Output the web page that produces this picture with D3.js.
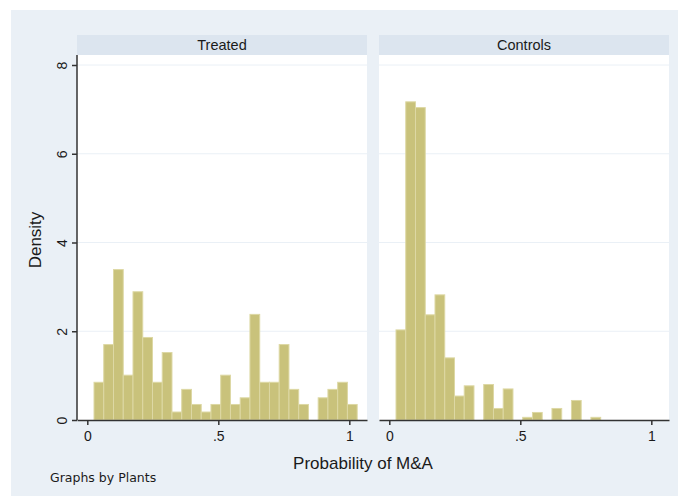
<!DOCTYPE html>
<html lang="en">
<head>
	<meta charset="UTF-8">
	<script src="https://d3js.org/d3.v7.min.js"></script>
	<style>
	body { margin: 0; background: #ffffff; }
	text { font-family: "Liberation Sans", Arial, sans-serif; fill: #1a1a1a; }
	</style>
	<title>Probability of M&amp;A by Plants</title>
</head>
<body>
	<div id="chart"></div>
	<script>
		// Histogram bins (same for both panels)
		const binStart = 0.0256;
		const binWidth = 0.0372;

		// Density per bin
		const treatedDensity = [0.85, 1.70, 3.39, 1.01, 2.89, 1.86, 0.85, 1.52, 0.18, 0.69,
			0.35, 0.18, 0.35, 1.01, 0.35, 0.50, 2.38, 0.85, 0.85, 1.70,
			0.69, 0.35, 0, 0.50, 0.69, 0.85, 0.35];
		const controlsDensity = [2.03, 7.17, 7.04, 2.37, 2.82, 1.40, 0.54, 0.77, 0, 0.80,
			0.26, 0.70, 0, 0.06, 0.17, 0, 0.26, 0, 0.44, 0, 0.06];

		const panels = ["Treated", "Controls"];
		const panelData = [treatedDensity, controlsDensity];
		const xTicks = [0, 0.5, 1];
		const xTickLabels = ["0", ".5", "1"];
		const yTicks = [0, 2, 4, 6, 8];

		const width = 678, height = 496;
		const svg = d3.select("#chart").append("svg")
			.attr("width", width)
			.attr("height", height);

		// Outer graph region
		svg.append("rect")
			.attr("x", 11).attr("y", 10)
			.attr("width", 667).attr("height", 486)
			.attr("fill", "#eaf0f6");

		const plotTop = 55, plotBottom = 420;
		const panelLeft = [77, 379], panelW = 290;

		const y = d3.scaleLinear([0, 8], [plotBottom, 65]);

		panels.forEach(function(name, p) {
			const x0 = panelLeft[p];
			const x = d3.scaleLinear([-0.0393, 1.0675], [x0, x0 + panelW]);
			const g = svg.append("g");

			// strip
			g.append("rect")
				.attr("x", x0).attr("y", 35)
				.attr("width", panelW).attr("height", 20)
				.attr("fill", "#dce5ef");
			g.append("text")
				.attr("x", x0 + panelW / 2).attr("y", 50)
				.attr("text-anchor", "middle")
				.style("font-size", "14.5px")
				.text(name);

			// plot region
			g.append("rect")
				.attr("x", x0).attr("y", plotTop)
				.attr("width", panelW).attr("height", plotBottom - plotTop)
				.attr("fill", "#ffffff");

			// gridlines
			g.selectAll(".grid")
				.data(yTicks.slice(1))
				.join("line")
				.attr("x1", x0).attr("x2", x0 + panelW)
				.attr("y1", d => y(d)).attr("y2", d => y(d))
				.attr("stroke", "#eaf0f6")
				.attr("stroke-width", 1);

			// bars (empty bins skipped, index kept)
			const bins = panelData[p].map((d, i) => ({ i: i, v: d })).filter(b => b.v > 0);
			g.selectAll(".bar")
				.data(bins)
				.join("rect")
				.attr("x", b => x(binStart + b.i * binWidth))
				.attr("y", b => y(b.v))
				.attr("width", b => x(binStart + (b.i + 1) * binWidth) - x(binStart + b.i * binWidth))
				.attr("height", b => y(0) - y(b.v))
				.attr("fill", "#c9c27b")
				.attr("stroke", "#ddd8a4")
				.attr("stroke-width", 1);

			// x axis
			const xAxis = g.append("g")
				.attr("transform", "translate(0," + plotBottom + ")")
				.call(d3.axisBottom(x).tickValues(xTicks)
					.tickFormat((d, i) => xTickLabels[i])
					.tickSize(5).tickPadding(6).tickSizeOuter(0));
			xAxis.select(".domain").attr("stroke", "#333333").attr("stroke-width", 1.5);
			xAxis.selectAll(".tick line").attr("stroke", "#333333").attr("stroke-width", 1.5);
			xAxis.selectAll("text").style("font-size", "14px")
				.style("font-family", "Liberation Sans, Arial, sans-serif").attr("fill", "#1a1a1a");

			// y axis only on first panel
			if (p == 0) {
				const yAxis = g.append("g")
					.attr("transform", "translate(" + x0 + ",0)")
					.call(d3.axisLeft(y).tickValues(yTicks).tickSize(5).tickSizeOuter(0).tickFormat(d3.format("d")));
				yAxis.select(".domain").attr("d", "M0," + plotTop + "V" + plotBottom)
					.attr("stroke", "#333333").attr("stroke-width", 1.5);
				yAxis.selectAll(".tick line").attr("stroke", "#333333").attr("stroke-width", 1.5);
				yAxis.selectAll("text")
					.attr("x", null).attr("dy", null)
					.attr("text-anchor", "middle")
					.attr("transform", "translate(-10,0) rotate(-90)")
					.style("font-size", "14px")
					.style("font-family", "Liberation Sans, Arial, sans-serif").attr("fill", "#1a1a1a");
			}
		});

		// axis titles
		svg.append("text")
			.attr("transform", "translate(41,240) rotate(-90)")
			.attr("text-anchor", "middle")
			.style("font-size", "17px")
			.text("Density");
		svg.append("text")
			.attr("x", 363).attr("y", 469)
			.attr("text-anchor", "middle")
			.style("font-size", "17px")
			.text("Probability of M&A");
		svg.append("text")
			.attr("x", 50).attr("y", 482)
			.style("font-size", "12.5px")
			.style("font-family", "DejaVu Sans, sans-serif")
			.text("Graphs by Plants");
	</script>
</body>
</html>
